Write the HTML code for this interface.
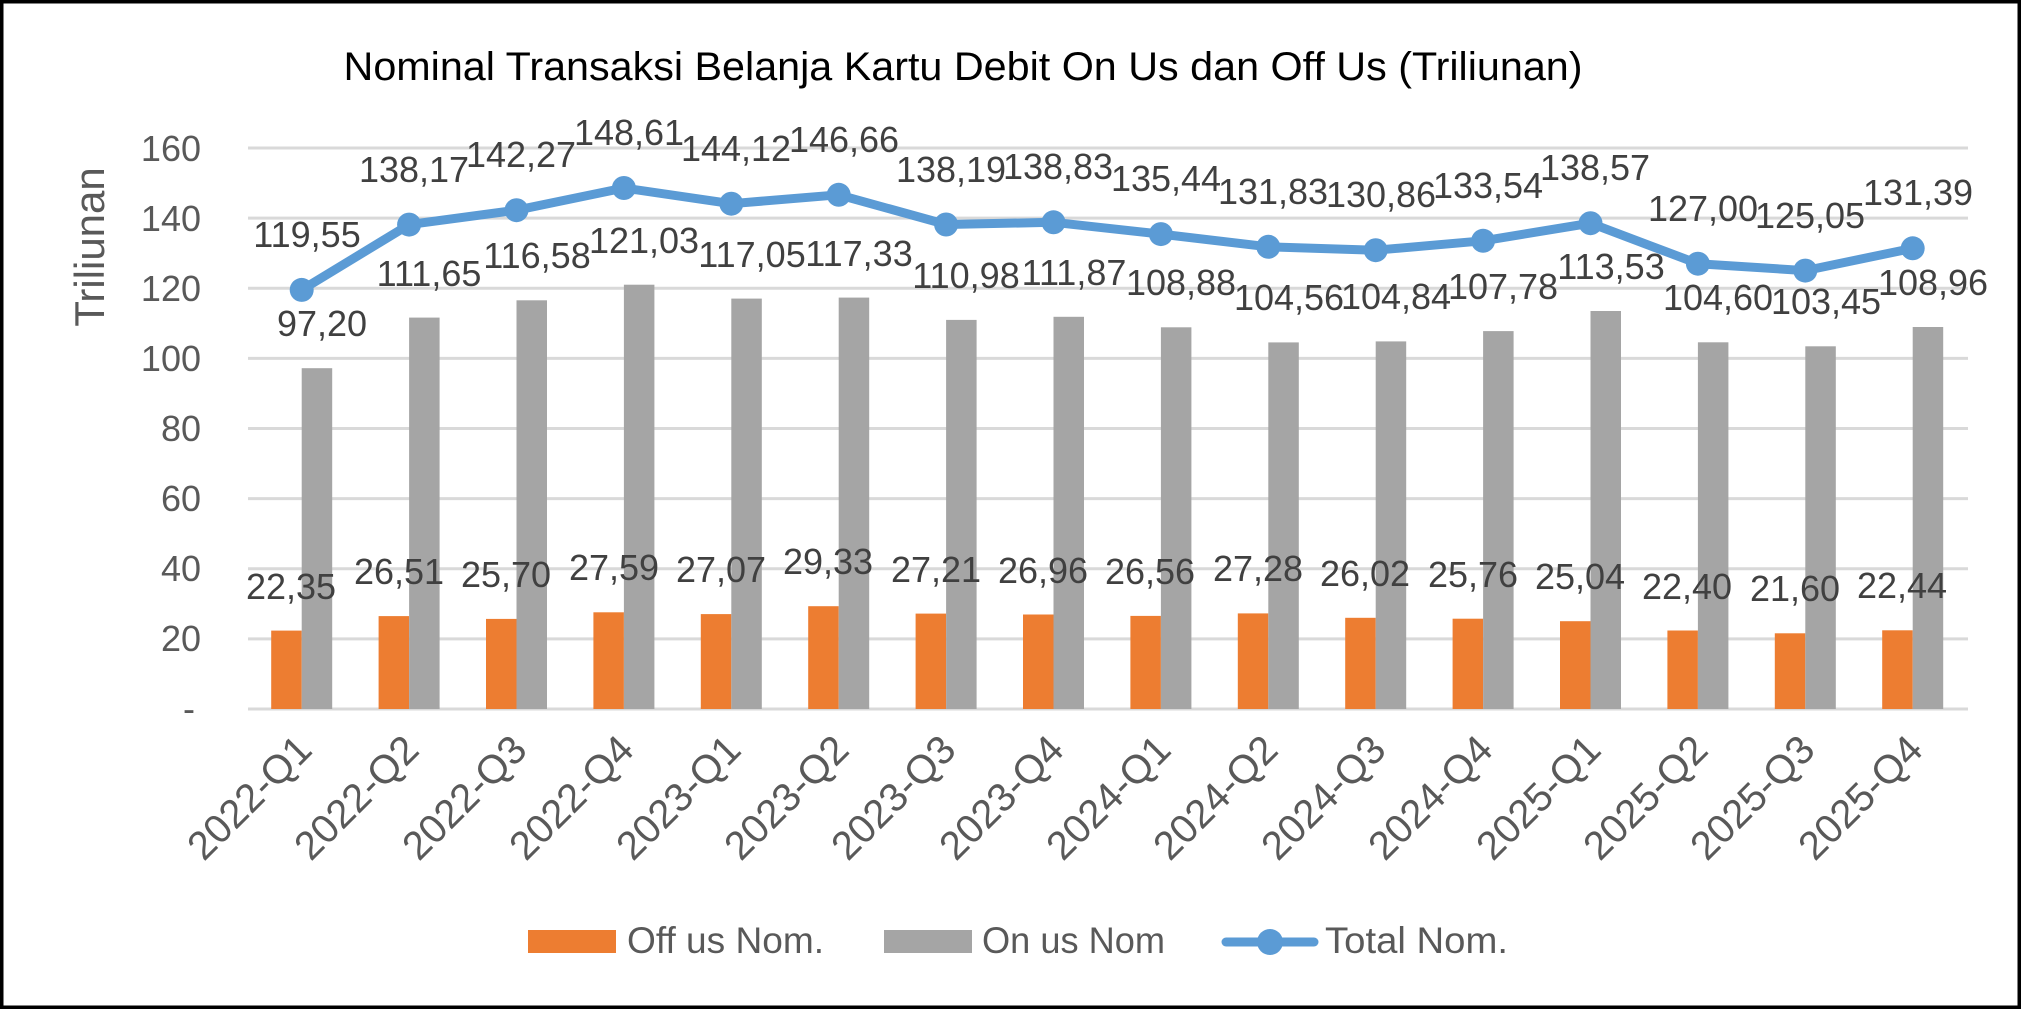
<!DOCTYPE html>
<html><head><meta charset="utf-8"><style>html,body{margin:0;padding:0;background:#fff}svg{display:block}</style></head><body>
<svg width="2021" height="1009" viewBox="0 0 2021 1009" xmlns="http://www.w3.org/2000/svg" font-family="'Liberation Sans', sans-serif">
<rect x="1.5" y="1.5" width="2018" height="1006" fill="#fff" stroke="#000" stroke-width="4"/>
<text x="963" y="80" font-size="40" text-anchor="middle" fill="#000" textLength="1239" lengthAdjust="spacingAndGlyphs">Nominal Transaksi Belanja Kartu Debit On Us dan Off Us (Triliunan)</text>
<g stroke="#D9D9D9" stroke-width="3">
<line x1="248" x2="1968" y1="148" y2="148"/><line x1="248" x2="1968" y1="218.1" y2="218.1"/><line x1="248" x2="1968" y1="288.3" y2="288.3"/><line x1="248" x2="1968" y1="358.4" y2="358.4"/><line x1="248" x2="1968" y1="428.5" y2="428.5"/><line x1="248" x2="1968" y1="498.6" y2="498.6"/><line x1="248" x2="1968" y1="568.8" y2="568.8"/><line x1="248" x2="1968" y1="638.9" y2="638.9"/><line x1="248" x2="1968" y1="709" y2="709"/>
</g>
<g font-size="36" fill="#595959" text-anchor="end">
<text x="201" y="161">160</text><text x="201" y="231">140</text><text x="201" y="301">120</text><text x="201" y="371">100</text><text x="201" y="441">80</text><text x="201" y="511">60</text><text x="201" y="581">40</text><text x="201" y="651">20</text><text x="195" y="721">-</text>
</g>
<text transform="translate(104,247) rotate(-90)" font-size="42" fill="#595959" text-anchor="middle">Triliunan</text>
<g fill="#ED7D31">
<rect x="271.2" y="630.6" width="30.5" height="78.4"/><rect x="378.6" y="616.1" width="30.5" height="92.9"/><rect x="486" y="618.9" width="30.5" height="90.1"/><rect x="593.4" y="612.3" width="30.5" height="96.7"/><rect x="700.8" y="614.1" width="30.5" height="94.9"/><rect x="808.2" y="606.2" width="30.5" height="102.8"/><rect x="915.6" y="613.6" width="30.5" height="95.4"/><rect x="1023" y="614.5" width="30.5" height="94.5"/><rect x="1130.4" y="615.9" width="30.5" height="93.1"/><rect x="1237.8" y="613.4" width="30.5" height="95.6"/><rect x="1345.2" y="617.8" width="30.5" height="91.2"/><rect x="1452.6" y="618.7" width="30.5" height="90.3"/><rect x="1560" y="621.2" width="30.5" height="87.8"/><rect x="1667.4" y="630.5" width="30.5" height="78.5"/><rect x="1774.8" y="633.3" width="30.5" height="75.7"/><rect x="1882.2" y="630.3" width="30.5" height="78.7"/>
</g>
<g fill="#A5A5A5">
<rect x="301.7" y="368.2" width="30.5" height="340.8"/><rect x="409.1" y="317.6" width="30.5" height="391.4"/><rect x="516.5" y="300.3" width="30.5" height="408.7"/><rect x="623.9" y="284.7" width="30.5" height="424.3"/><rect x="731.3" y="298.6" width="30.5" height="410.4"/><rect x="838.7" y="297.6" width="30.5" height="411.4"/><rect x="946.1" y="319.9" width="30.5" height="389.1"/><rect x="1053.5" y="316.8" width="30.5" height="392.2"/><rect x="1160.9" y="327.3" width="30.5" height="381.7"/><rect x="1268.3" y="342.4" width="30.5" height="366.6"/><rect x="1375.7" y="341.4" width="30.5" height="367.6"/><rect x="1483.1" y="331.1" width="30.5" height="377.9"/><rect x="1590.5" y="311" width="30.5" height="398"/><rect x="1697.9" y="342.3" width="30.5" height="366.7"/><rect x="1805.3" y="346.3" width="30.5" height="362.7"/><rect x="1912.7" y="327" width="30.5" height="382"/>
</g>
<polyline fill="none" stroke="#5B9BD5" stroke-width="9" stroke-linejoin="round" stroke-linecap="round" points="301.7,289.9 409.1,224.6 516.5,210.2 623.9,188 731.3,203.7 838.7,194.8 946.1,224.5 1053.5,222.3 1160.9,234.1 1268.3,246.8 1375.7,250.2 1483.1,240.8 1590.5,223.2 1697.9,263.7 1805.3,270.6 1912.7,248.3"/>
<g fill="#5B9BD5">
<circle cx="301.7" cy="289.9" r="12"/><circle cx="409.1" cy="224.6" r="12"/><circle cx="516.5" cy="210.2" r="12"/><circle cx="623.9" cy="188" r="12"/><circle cx="731.3" cy="203.7" r="12"/><circle cx="838.7" cy="194.8" r="12"/><circle cx="946.1" cy="224.5" r="12"/><circle cx="1053.5" cy="222.3" r="12"/><circle cx="1160.9" cy="234.1" r="12"/><circle cx="1268.3" cy="246.8" r="12"/><circle cx="1375.7" cy="250.2" r="12"/><circle cx="1483.1" cy="240.8" r="12"/><circle cx="1590.5" cy="223.2" r="12"/><circle cx="1697.9" cy="263.7" r="12"/><circle cx="1805.3" cy="270.6" r="12"/><circle cx="1912.7" cy="248.3" r="12"/>
</g>
<g font-size="36" fill="#404040" text-anchor="middle">
<text x="307" y="247">119,55</text><text x="414" y="182">138,17</text><text x="521" y="167">142,27</text><text x="629" y="145">148,61</text><text x="736" y="161">144,12</text><text x="844" y="152">146,66</text><text x="951" y="182">138,19</text><text x="1058" y="179">138,83</text><text x="1166" y="191">135,44</text><text x="1273" y="204">131,83</text><text x="1381" y="207">130,86</text><text x="1488" y="198">133,54</text><text x="1595" y="180">138,57</text><text x="1703" y="221">127,00</text><text x="1810" y="228">125,05</text><text x="1918" y="205">131,39</text>
<text x="322" y="336">97,20</text><text x="429" y="286">111,65</text><text x="537" y="268">116,58</text><text x="644" y="253">121,03</text><text x="752" y="267">117,05</text><text x="859" y="266">117,33</text><text x="966" y="288">110,98</text><text x="1074" y="285">111,87</text><text x="1181" y="295">108,88</text><text x="1289" y="310">104,56</text><text x="1396" y="309">104,84</text><text x="1503" y="299">107,78</text><text x="1611" y="279">113,53</text><text x="1718" y="310">104,60</text><text x="1826" y="314">103,45</text><text x="1933" y="295">108,96</text>
<text x="291" y="599">22,35</text><text x="399" y="584">26,51</text><text x="506" y="587">25,70</text><text x="614" y="580">27,59</text><text x="721" y="582">27,07</text><text x="828" y="574">29,33</text><text x="936" y="582">27,21</text><text x="1043" y="583">26,96</text><text x="1150" y="584">26,56</text><text x="1258" y="581">27,28</text><text x="1365" y="586">26,02</text><text x="1473" y="587">25,76</text><text x="1580" y="589">25,04</text><text x="1687" y="599">22,40</text><text x="1795" y="601">21,60</text><text x="1902" y="598">22,44</text>
</g>
<g font-size="40" fill="#595959" text-anchor="end">
<text transform="translate(314,752) rotate(-45)">2022-Q1</text><text transform="translate(421,752) rotate(-45)">2022-Q2</text><text transform="translate(529,752) rotate(-45)">2022-Q3</text><text transform="translate(636,752) rotate(-45)">2022-Q4</text><text transform="translate(743,752) rotate(-45)">2023-Q1</text><text transform="translate(851,752) rotate(-45)">2023-Q2</text><text transform="translate(958,752) rotate(-45)">2023-Q3</text><text transform="translate(1066,752) rotate(-45)">2023-Q4</text><text transform="translate(1173,752) rotate(-45)">2024-Q1</text><text transform="translate(1280,752) rotate(-45)">2024-Q2</text><text transform="translate(1388,752) rotate(-45)">2024-Q3</text><text transform="translate(1495,752) rotate(-45)">2024-Q4</text><text transform="translate(1603,752) rotate(-45)">2025-Q1</text><text transform="translate(1710,752) rotate(-45)">2025-Q2</text><text transform="translate(1817,752) rotate(-45)">2025-Q3</text><text transform="translate(1925,752) rotate(-45)">2025-Q4</text>
</g>
<rect x="528" y="930" width="88" height="23" fill="#ED7D31"/>
<text x="627" y="953" font-size="37" fill="#595959" textLength="197" lengthAdjust="spacingAndGlyphs">Off us Nom.</text>
<rect x="884" y="930" width="88" height="23" fill="#A5A5A5"/>
<text x="982" y="953" font-size="37" fill="#595959" textLength="183" lengthAdjust="spacingAndGlyphs">On us Nom</text>
<line x1="1226" y1="942" x2="1314" y2="942" stroke="#5B9BD5" stroke-width="9" stroke-linecap="round"/>
<circle cx="1270" cy="942" r="13" fill="#5B9BD5"/>
<text x="1325" y="953" font-size="37" fill="#595959" textLength="183" lengthAdjust="spacingAndGlyphs">Total Nom.</text>
</svg>
</body></html>
